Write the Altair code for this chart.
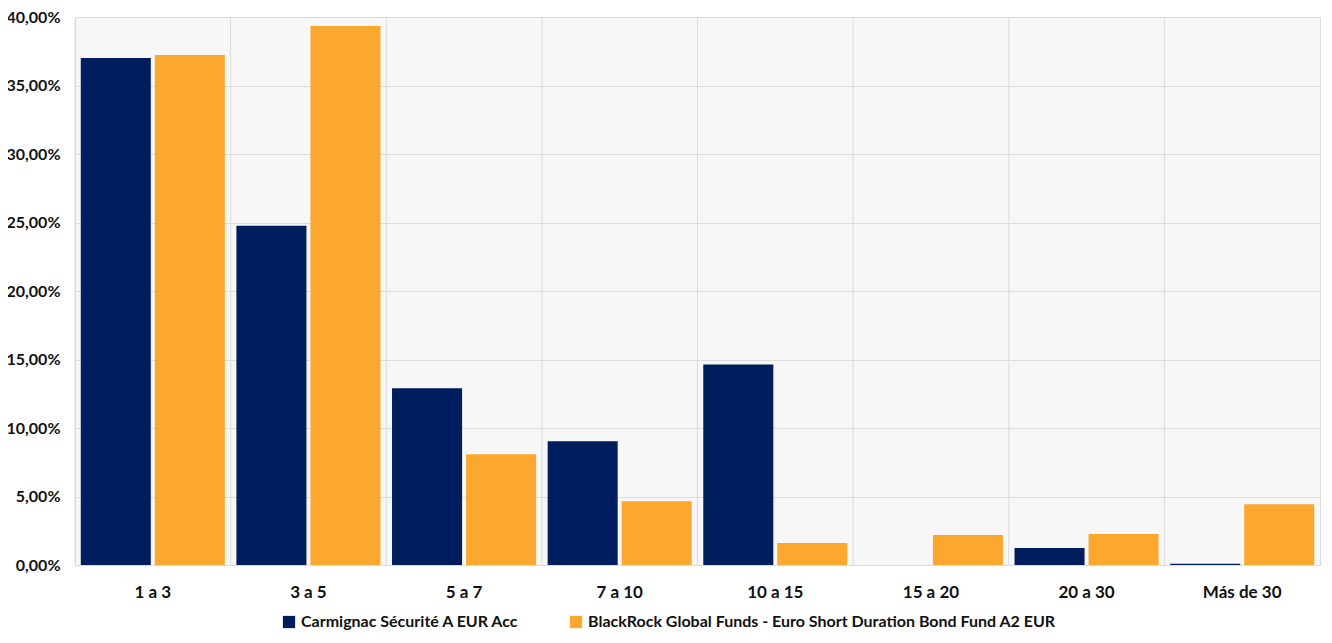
import altair as alt
import pandas as pd

categories = ["1 a 3", "3 a 5", "5 a 7", "7 a 10", "10 a 15", "15 a 20", "20 a 30", "Más de 30"]
series_names = ["Carmignac Sécurité A EUR Acc",
                "BlackRock Global Funds - Euro Short Duration Bond Fund A2 EUR"]
carmignac = [37.01, 24.77, 12.90, 9.03, 14.64, 0.0, 1.24, 0.10]
blackrock = [37.23, 39.34, 8.09, 4.66, 1.60, 2.19, 2.26, 4.44]
colors = ["#001E5E", "#FCA82F"]
y_ticks = [0, 5, 10, 15, 20, 25, 30, 35, 40]

rows = []
for c, a, b in zip(categories, carmignac, blackrock):
    rows.append({"cat": c, "serie": series_names[0], "val": a})
    rows.append({"cat": c, "serie": series_names[1], "val": b})
df = pd.DataFrame(rows)
cats_df = pd.DataFrame({"cat": categories})

FONT = "Lato"
xscale = alt.Scale(domain=categories, paddingInner=0, paddingOuter=0)
xaxis = alt.Axis(labelAngle=0, labelFont=FONT, labelFontSize=17, labelFontWeight="bold",
                 labelColor="#111", labelPadding=19, ticks=False, domain=False, grid=False)

grid_v = alt.Chart(cats_df).mark_rule(color="#dcdcdc", strokeWidth=1).encode(
    x=alt.X("cat:N", scale=xscale, bandPosition=0, title=None, axis=xaxis)
)

bars = alt.Chart(df).mark_bar().encode(
    x=alt.X("cat:N", scale=xscale, title=None, axis=xaxis),
    xOffset=alt.XOffset("serie:N", sort=series_names,
                        scale=alt.Scale(domain=series_names, paddingInner=0.054, paddingOuter=0.078)),
    y=alt.Y("val:Q", title=None,
            scale=alt.Scale(domain=[0, 40], nice=False),
            axis=alt.Axis(values=y_ticks, labelExpr="replace(format(datum.value, '.2f'), '.', ',') + '%'",
                          labelFont=FONT, labelFontSize=16, labelFontWeight="bold", labelColor="#111",
                          labelPadding=15, ticks=False, domain=False, grid=True,
                          gridColor="#dcdcdc", gridWidth=1)),
    color=alt.Color("serie:N", sort=series_names,
                    scale=alt.Scale(domain=series_names, range=colors),
                    legend=alt.Legend(title=None, orient="none", direction="horizontal",
                                      legendX=206, legendY=597,
                                      symbolType="square", symbolSize=150, symbolStrokeWidth=0,
                                      labelFont=FONT, labelFontSize=16, labelFontWeight="bold",
                                      labelColor="#111", labelLimit=700, columnPadding=48)),
)

chart = alt.layer(grid_v, bars).properties(
    width=1245, height=548,
    padding={"left": 67, "top": 9, "right": 4, "bottom": 70},
    autosize=alt.AutoSizeParams(type="none"),
    background="white",
).configure_view(fill="#f7f7f7", stroke="#dcdcdc", strokeWidth=1)

chart.save("out.html", embed_options={"renderer": "svg", "actions": False})
